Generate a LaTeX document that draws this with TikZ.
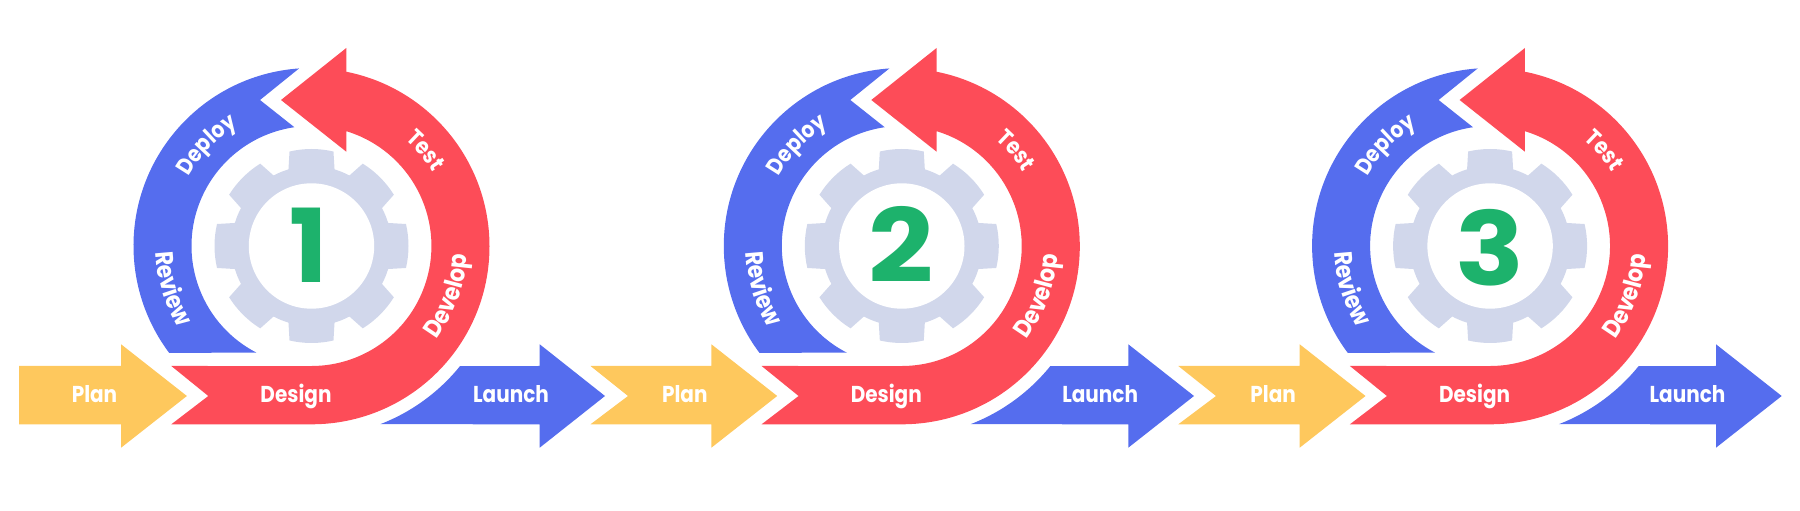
\documentclass[tikz,border=0pt]{standalone}
\usepackage{fontspec}
\newfontfamily\lblfont[FakeStretch=0.87]{Poppins}
\newfontfamily\numfont{Poppins}
\usetikzlibrary{decorations.text}
\definecolor{redarc}{HTML}{FD4C58}
\definecolor{bluearc}{HTML}{556DEE}
\definecolor{planyellow}{HTML}{FEC85D}
\definecolor{gearblue}{HTML}{D1D7EB}
\definecolor{numgreen}{HTML}{1DB26C}

\begin{document}
\begin{tikzpicture}[x=1pt,y=1pt,
  flatlabel/.style={anchor=base,text=white,font=\lblfont\bfseries\fontsize{23}{26}\selectfont},
  numlabel/.style={anchor=base,transform shape,text=numgreen,font=\numfont\bfseries\fontsize{102}{104}\selectfont},
  ringlabel/.style={decorate,decoration={text along path,text align=center,
    text={|\lblfont\bfseries\fontsize{23}{26}\selectfont\color{white}|#1}}},
  ringlabelin/.style={decorate,decoration={text along path,text align=center,
    text={|\lblfont\bfseries\fontsize{25}{28}\selectfont\color{white}|#1}}}]
  \useasboundingbox (0,0) rectangle (1800,511);
  % one block per cycle: centre, tail and notch of Plan, head and tip of Launch, its label, the digit
  \foreach \n/\cx/\tailx/\notchx/\headx/\tipx/\launchx/\numx/\numy/\numsx in
    {1/311.5/-292.5/-292.5/228.2/293.5/199.5/-3/-37/1,
     2/901.8/-311.3/-273.8/226.5/292.2/198.4/-0.5/-37/1.12,
     3/1490.1/-311.8/-274.1/225.9/291.6/197.4/-0.5/-40/1.12} {
  \begin{scope}[xshift=\cx,yshift=265]
    % gear
    \fill[gearblue] (0,0) circle (80);
    \foreach \a in {0,45,...,315} {
      \fill[gearblue] (\a-17:79) -- (\a-13.1:97) arc[start angle=\a-13.1,end angle=\a+13.1,radius=97] -- (\a+17:79) -- cycle;
    }
    \fill[white] (0,0) circle (62.7);
    \node[numlabel,xscale=\numsx] (num\n) at (\numx,\numy) {\n};
    % plan
    \fill[planyellow] (\tailx,-120) -- (-190.4,-120) -- (-190.4,-98.3) -- (-124.6,-150) -- (-190.4,-201.7) -- (-190.4,-178.3) -- (\tailx,-178.3) -- (\notchx,-150) -- cycle;
    \node[flatlabel] (plan\n) at (-217,-157) {Plan};
    % blue deploy and review arc
    \fill[bluearc] (94:178) arc[start angle=94,end angle=216.9,radius=178] -- (242.7:120) arc[start angle=242.7,end angle=98.2,radius=120] -- (-51.5,146) -- cycle;
    \path[ringlabel=Deploy] (166:141) arc[start angle=166,end angle=106,radius=141];
    \path[ringlabelin=Review] (167:156) arc[start angle=167,end angle=227,radius=156];
    % red arc with head
    \fill[redarc] (-140.2,-120) -- (-103.2,-150) -- (-140.2,-178.3) -- (0,-178.3) arc[start angle=-90,end angle=78.7,radius=178] -- (34.8,198) -- (-30.5,146) -- (34.8,94.3) -- (34.8,114.8) arc[start angle=73.1,end angle=-90,radius=120] -- cycle;
    \node[flatlabel] (design\n) at (-15.5,-157) {Design};
    \path[ringlabel=Test] (70:142) arc[start angle=70,end angle=10,radius=142];
    \path[ringlabelin=Develop] (-50:156) arc[start angle=-50,end angle=10,radius=156];
    % launch
    \fill[bluearc] (-68.9:191) arc[start angle=-68.9,end angle=-39,radius=191] -- (\headx,-120) -- (\headx,-98.3) -- (\tipx,-150) -- (\headx,-201.7) -- (\headx,-178.3) -- cycle;
    \node[flatlabel] (launch\n) at (\launchx,-157) {Launch};
  \end{scope}
  }
\end{tikzpicture}
\end{document}
